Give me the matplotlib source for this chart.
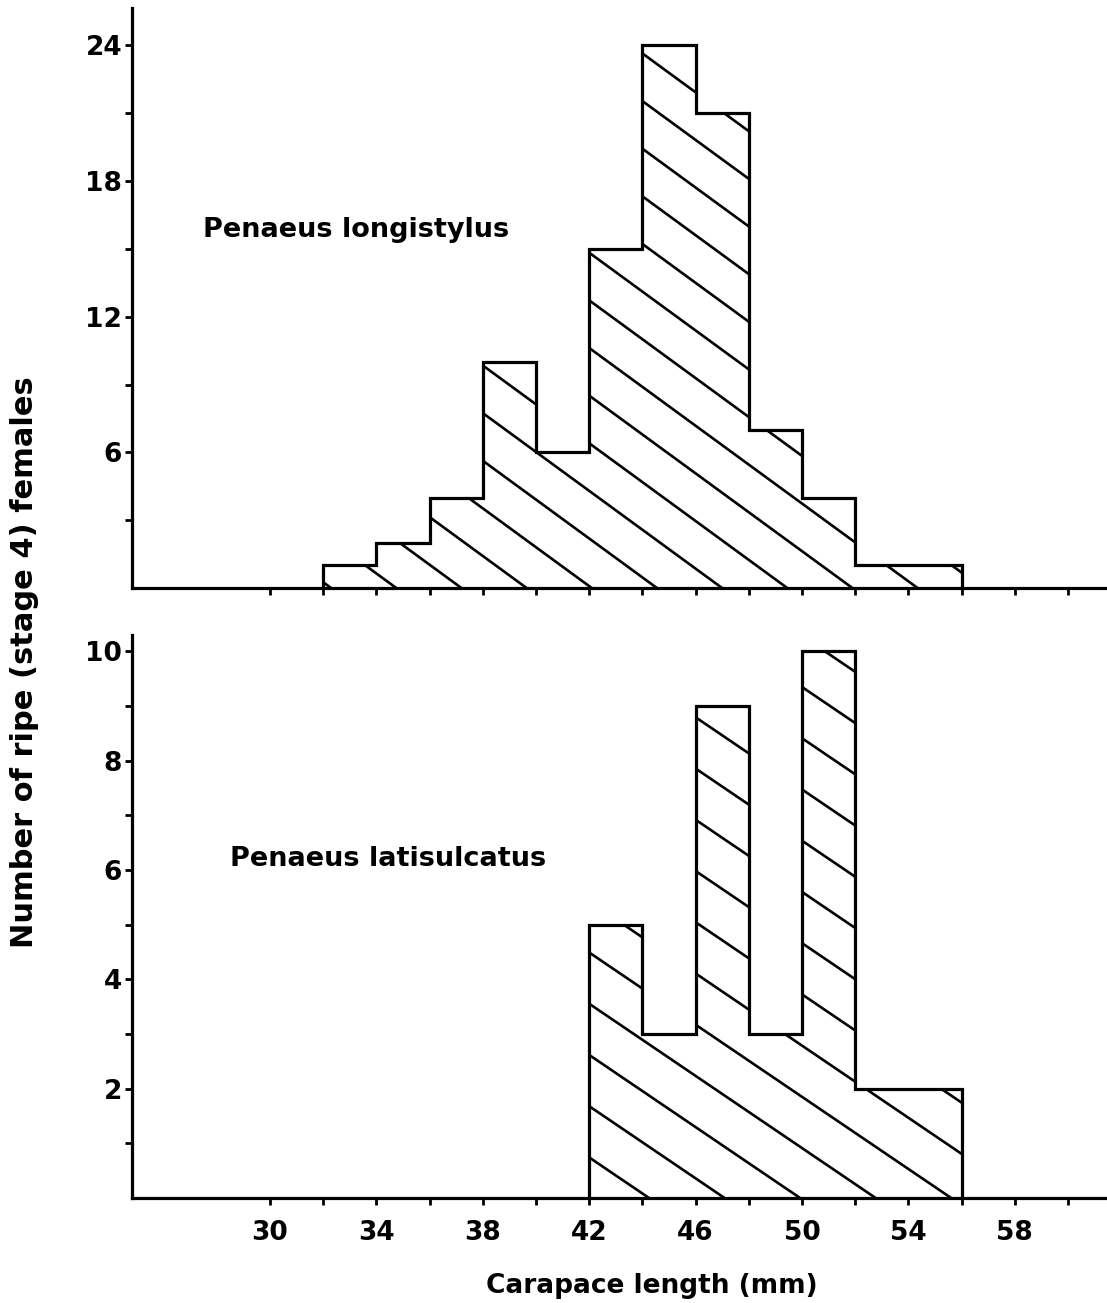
import numpy as np
import matplotlib
matplotlib.use("Agg")
import matplotlib.pyplot as plt
from matplotlib.collections import LineCollection

# carapace length classes (mm) and counts of ripe females
edges_long = [32, 34, 36, 38, 40, 42, 44, 46, 48, 50, 52, 54, 56]
counts_long = [1, 2, 4, 10, 6, 15, 24, 21, 7, 4, 1, 1]

edges_lati = [42, 44, 46, 48, 50, 52, 54, 56]
counts_lati = [5, 3, 9, 3, 10, 2, 2]

x_labels = [30, 34, 38, 42, 46, 50, 54, 58]
x_minor = [32, 36, 40, 44, 48, 52, 56, 60]
y_long_major = [6, 12, 18, 24]
y_long_minor = [3, 9, 15, 21]
y_lati_major = [2, 4, 6, 8, 10]
y_lati_minor = [1, 3, 5, 7, 9]

plt.rcParams["font.family"] = ["DejaVu Sans"]
plt.rcParams["font.weight"] = "bold"

LW = 2.3


def hatched_hist(ax, edges, counts, slope, spacing, first, last):
    # invisible filled step patch, only used to clip the hatching
    fill = ax.stairs(counts, edges, fill=True, facecolor="none",
                     edgecolor="none", baseline=0)
    ax.stairs(counts, edges, color="black", lw=LW, baseline=0)
    ymax = max(counts) + 1
    segs = []
    for x0 in np.arange(first, last, spacing):
        segs.append([(x0, 0), (x0 - ymax / slope, ymax)])
    lc = LineCollection(segs, colors="black", linewidths=1.9)
    ax.add_collection(lc)
    lc.set_clip_path(fill)


def style(ax, ymax, ymaj, ymin, show_x):
    ax.set_xlim(24.81, 61.47)
    ax.set_ylim(0, ymax)
    for s in ["top", "right"]:
        ax.spines[s].set_visible(False)
    for s in ["left", "bottom"]:
        ax.spines[s].set_linewidth(LW)
    ax.set_xticks(x_labels)
    ax.set_xticks(x_minor, minor=True)
    ax.set_yticks(ymaj)
    ax.set_yticks(ymin, minor=True)
    ax.tick_params(which="both", direction="out", length=5, width=2,
                   labelsize=19, color="black")
    ax.tick_params(axis="y", pad=2)
    ax.tick_params(axis="x", pad=11)
    if not show_x:
        ax.tick_params(axis="x", labelbottom=False)


fig = plt.figure(figsize=(11.07, 13.03), dpi=100)
ax1 = fig.add_axes([0.1192, 0.5487, 0.8808, 0.4452])
ax2 = fig.add_axes([0.1192, 0.0806, 0.8808, 0.4321])

hatched_hist(ax1, edges_long, counts_long, slope=0.86, spacing=2.45,
             first=32.3, last=76)
hatched_hist(ax2, edges_lati, counts_lati, slope=0.33, spacing=2.84,
             first=41.41, last=82)

style(ax1, 25.66, y_long_major, y_long_minor, show_x=False)
style(ax2, 10.3, y_lati_major, y_lati_minor, show_x=True)

ax1.text(27.48, 15.84, "Penaeus longistylus", fontsize=19.5,
         fontweight="bold", ha="left", va="center")
ax2.text(28.5, 6.2, "Penaeus latisulcatus", fontsize=19.5,
         fontweight="bold", ha="left", va="center")

ax2.set_xlabel("Carapace length (mm)", fontsize=19, fontweight="bold")
ax2.xaxis.set_label_coords(0.533, -0.133)
ax2.xaxis.label.set_va("top")

fig.text(0.0217, 0.492, "Number of ripe (stage 4) females", fontsize=22,
         fontweight="bold", rotation=90, ha="center", va="center")

fig.savefig("out.png", dpi=100)
